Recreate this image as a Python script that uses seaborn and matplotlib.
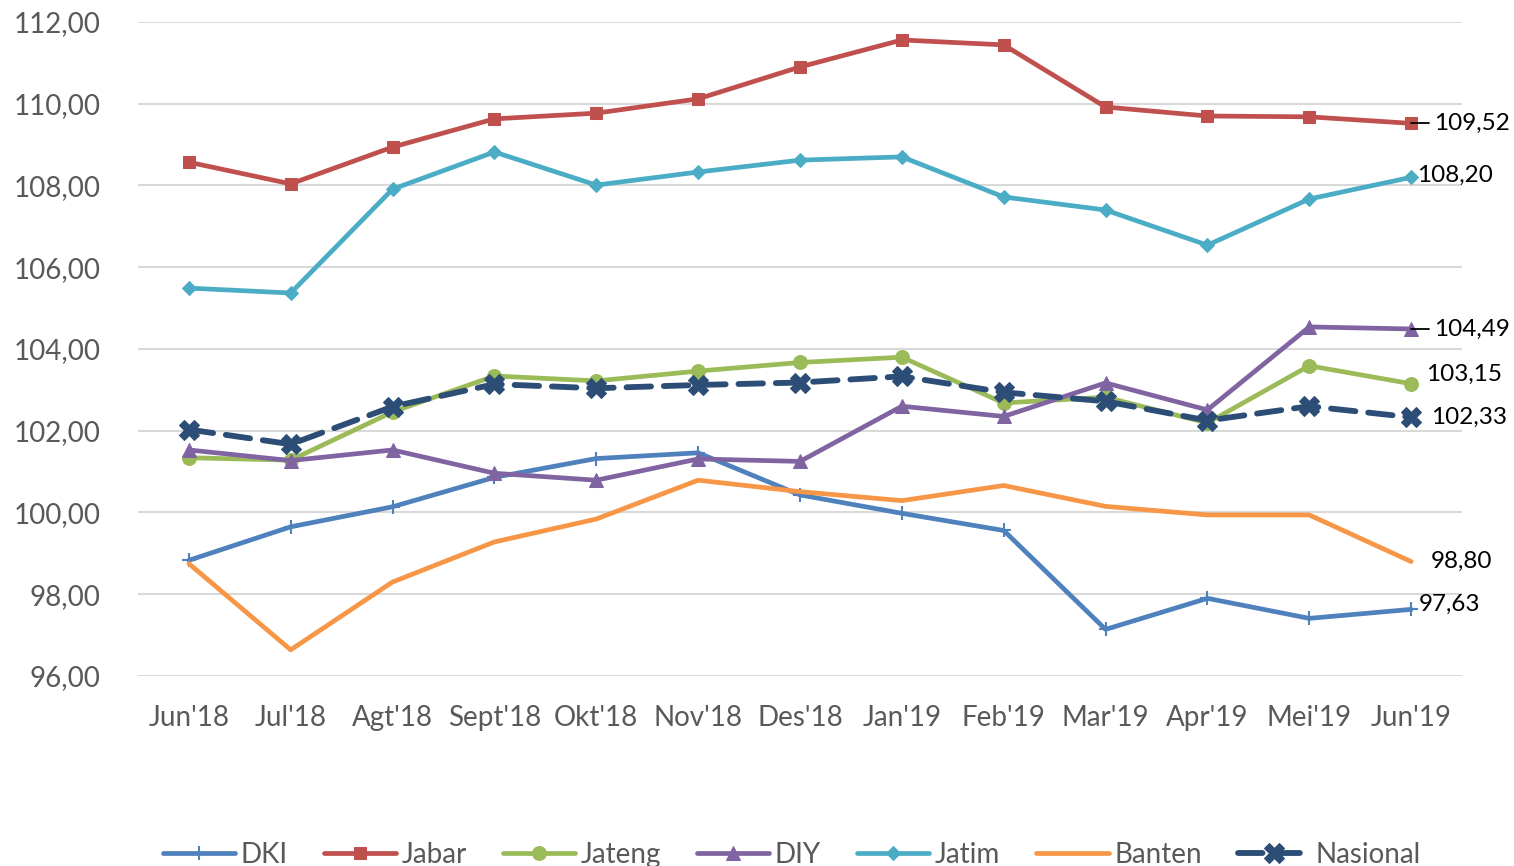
import matplotlib
matplotlib.use("Agg")
import matplotlib.pyplot as plt
import seaborn as sns
import numpy as np
from matplotlib.ticker import FuncFormatter

months = ["Jun'18", "Jul'18", "Agt'18", "Sept'18", "Okt'18", "Nov'18", "Des'18",
          "Jan'19", "Feb'19", "Mar'19", "Apr'19", "Mei'19", "Jun'19"]

dki      = [98.83, 99.65, 100.14, 100.86, 101.32, 101.46, 100.43, 99.98, 99.56, 97.14, 97.90, 97.41, 97.63]
jabar    = [108.57, 108.04, 108.94, 109.63, 109.77, 110.12, 110.90, 111.56, 111.44, 109.92, 109.70, 109.68, 109.52]
jateng   = [101.34, 101.28, 102.46, 103.34, 103.22, 103.46, 103.67, 103.80, 102.68, 102.82, 102.19, 103.59, 103.15]
diy      = [101.53, 101.27, 101.53, 100.96, 100.79, 101.31, 101.25, 102.60, 102.35, 103.17, 102.51, 104.54, 104.49]
jatim    = [105.49, 105.37, 107.91, 108.82, 108.01, 108.33, 108.62, 108.70, 107.72, 107.40, 106.54, 107.67, 108.20]
banten   = [98.75, 96.64, 98.30, 99.28, 99.84, 100.79, 100.51, 100.29, 100.66, 100.15, 99.94, 99.94, 98.80]
nasional = [102.03, 101.67, 102.59, 103.14, 103.04, 103.12, 103.18, 103.33, 102.94, 102.72, 102.25, 102.60, 102.33]

end_labels = ["97,63", "109,52", "103,15", "104,49", "108,20", "98,80", "102,33"]

sns.set_theme(style="white")
plt.rcParams['font.family'] = ['Lato', 'DejaVu Sans']

fig = plt.figure(figsize=(15.14, 8.66), dpi=100)
ax = fig.add_axes([0.0911, 0.2194, 0.8746, 0.7552])

x = np.arange(len(months))
series = [
    ("DKI", dki, "#4F81BD", "+", 10, "-"),
    ("Jabar", jabar, "#C0504D", "s", 9, "-"),
    ("Jateng", jateng, "#9BBB59", "o", 10, "-"),
    ("DIY", diy, "#8064A2", "^", 10, "-"),
    ("Jatim", jatim, "#4BACC6", "D", 7, "-"),
    ("Banten", banten, "#F79646", None, 0, "-"),
    ("Nasional", nasional, "#2C4D75", "X", 14, "--"),
]

for name, vals, col, mk, ms, ls in series:
    lw = 4.2 if ls == "--" else 3.4
    kw = dict(x=x, y=vals, ax=ax, color=col, linewidth=lw, label=name)
    if mk:
        kw.update(marker=mk, markersize=ms, markeredgecolor=col, markerfacecolor=col)
        if mk == "+":
            kw.update(markeredgewidth=1.5)
    sns.lineplot(**kw)
    if ls == "--":
        ax.lines[-1].set_dashes([4.2, 2.2])
        ax.lines[-1].set_dash_capstyle("round")

ax.set_xlim(-0.5, 12.5)
ax.set_ylim(96, 112)
ax.set_yticks(np.arange(96, 113, 2))
ax.yaxis.set_major_formatter(FuncFormatter(lambda v, p: f"{v:.2f}".replace(".", ",")))
ax.set_xticks(x)
ax.set_xticklabels(months)
ax.tick_params(axis='both', labelsize=20, colors="#595959", length=0)
ax.tick_params(axis='y', pad=27)
ax.tick_params(axis='x', pad=21)
ax.grid(axis='y', color="#D9D9D9", linewidth=1.5)
ax.set_axisbelow(True)
for s in ax.spines.values():
    s.set_visible(False)
ax.set_xlabel("")
ax.set_ylabel("")

# end labels
offsets = {
    "DKI": (0.07, 0.12),
    "Jabar": (0.22, 0.0),
    "Jateng": (0.15, 0.22),
    "DIY": (0.22, 0.0),
    "Jatim": (0.06, 0.05),
    "Banten": (0.19, 0.0),
    "Nasional": (0.2, 0.0),
}
for (name, vals, col, mk, ms, ls), lab in zip(series, end_labels):
    dx, dy = offsets[name]
    ax.text(12 + dx, vals[-1] + dy, lab, fontsize=17.5, color="black", va="center", ha="left")
    if name in ("Jabar", "DIY"):
        ax.plot([12.0, 12.18], [vals[-1], vals[-1]], color="black", linewidth=1.3)

for t in ax.texts:
    t.set_clip_on(False)

handles, labels = ax.get_legend_handles_labels()
leg = fig.legend(handles, labels, loc="center", bbox_to_anchor=(0.523, 0.013), ncol=7,
                 frameon=False, fontsize=20, handlelength=2.6, columnspacing=1.3,
                 handletextpad=0.2, labelcolor="#595959")
if ax.get_legend():
    ax.get_legend().remove()

fig.savefig("out.png", dpi=100)
